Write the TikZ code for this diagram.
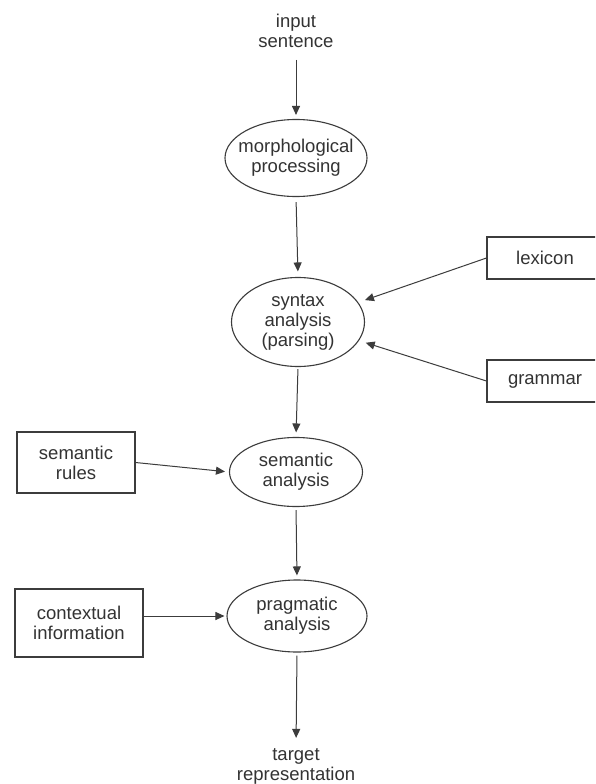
\documentclass[tikz,border=0pt]{standalone}
\usepackage{fontspec}
\setmainfont{Liberation Sans}
\usetikzlibrary{arrows.meta,shapes.geometric,calc}
\definecolor{ink}{HTML}{333333}
\definecolor{edgec}{HTML}{3C3C3C}
\newcommand\figfont{\fontsize{18.5}{20}\selectfont}
\begin{document}
\begin{tikzpicture}[x=1pt,y=-1pt,
  ell/.style={ellipse, draw=edgec, line width=1.1pt, fill=white, inner sep=0pt},
  box/.style={rectangle, draw=edgec, line width=1.1pt, inner sep=0pt, align=center, font=\figfont, text=ink},
  lbl/.style={align=center, font=\figfont, text=ink, inner sep=0pt},
  arr/.style={draw=edgec, line width=1pt, -{Triangle[length=9pt,width=8pt]}}]
\path[use as bounding box, clip] (0,0) rectangle (595,784);
\fill[white] (0,0) rectangle (595,784);

% flow nodes
\node[lbl] (inp) at (296,31) {input\\sentence};
\node[ell, minimum width=142pt, minimum height=77pt,
  label={[lbl]center:morphological\\processing}] (morph) at (296,158) {};
\node[ell, minimum width=133pt, minimum height=89pt,
  label={[lbl]center:syntax\\analysis\\(parsing)}] (syn) at (298,322) {};
\node[ell, minimum width=133pt, minimum height=69pt,
  label={[lbl]center:semantic\\analysis}] (sem) at (296,472) {};
\node[ell, minimum width=140pt, minimum height=72pt,
  label={[lbl]center:pragmatic\\analysis}] (prag) at (297,616) {};
\node[lbl] (tgt) at (296,766) {target\\representation};

% knowledge sources
\node[box, minimum width=116pt, minimum height=42pt] (lex) at (545,258) {lexicon};
\node[box, minimum width=116pt, minimum height=42pt] (gram) at (545,381) {grammar};
\node[box, minimum width=118pt, minimum height=61pt] (rules) at (76,462.5) {semantic\\rules};
\node[box, minimum width=128pt, minimum height=68pt] (ctx) at (79,623) {contextual\\information};

% main flow
\draw[arr, shorten <=12pt, shorten >=4pt] (inp.south) -- (morph.north);
\draw[arr, shorten <=5pt, shorten >=5.5pt] (morph.south) -- (syn.north);
\draw[arr, shorten <=2pt, shorten >=4.5pt] (syn.south) -- (sem.north);
\draw[arr, shorten <=3pt, shorten >=4pt] (sem.south) -- (prag.north);
\draw[arr, shorten <=3pt, shorten >=10pt] (prag.south) -- (tgt.north);

% inputs
\draw[arr, shorten >=7pt] (lex.west) -- (syn.18);
\draw[arr, shorten >=7pt] (gram.west) -- (syn.-17);
\draw[arr, shorten >=4pt] (rules.east) -- (sem.west);
\draw[arr, shorten >=2pt] (ctx.east |- prag.west) -- (prag.west);
\end{tikzpicture}
\end{document}
